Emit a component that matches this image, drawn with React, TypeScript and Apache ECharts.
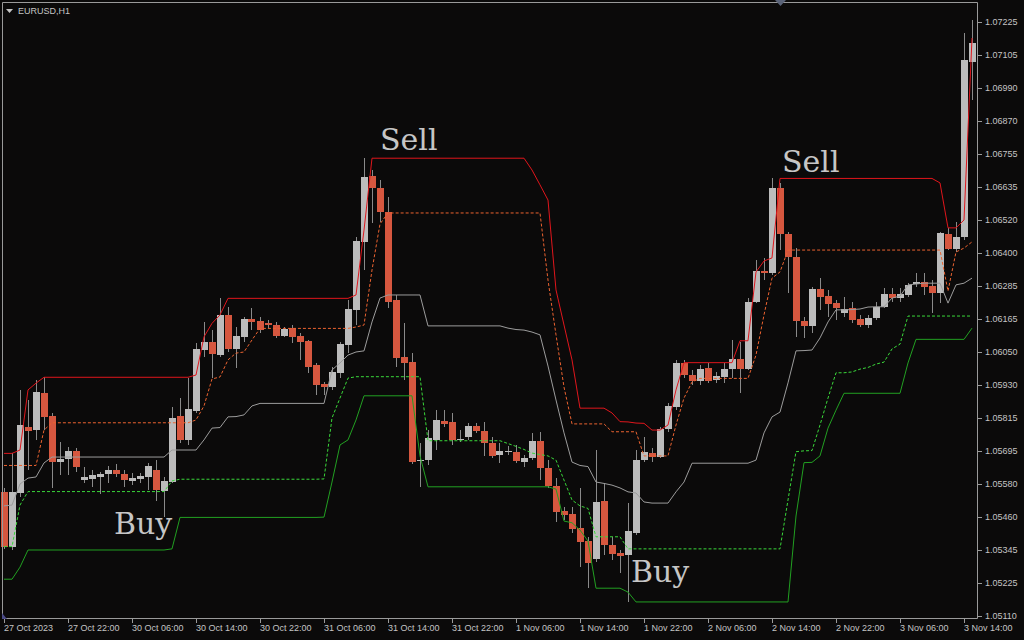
import React, { useEffect, useRef } from "react";
import * as echarts from "echarts";

// ---- time categories (H1 bars) ----
const dayBlocks: [string, number, number][] = [
  ["27 Oct", 14, 23],
  ["30 Oct", 0, 23],
  ["31 Oct", 0, 23],
  ["1 Nov", 0, 23],
  ["2 Nov", 0, 23],
  ["3 Nov", 0, 15],
];
const categories: string[] = [];
for (const [d, h0, h1] of dayBlocks) {
  for (let h = h0; h <= h1; h++) categories.push(`${d} ${String(h).padStart(2, "0")}:00`);
}

const xTickLabels = [
  "27 Oct 2023", "27 Oct 22:00", "30 Oct 06:00", "30 Oct 14:00", "30 Oct 22:00",
  "31 Oct 06:00", "31 Oct 14:00", "31 Oct 22:00", "1 Nov 06:00", "1 Nov 14:00",
  "1 Nov 22:00", "2 Nov 06:00", "2 Nov 14:00", "2 Nov 22:00", "3 Nov 06:00", "3 Nov 14:00",
];

const yTickLabels = [
  "1.05110", "1.05225", "1.05345", "1.05460", "1.05580", "1.05695", "1.05815",
  "1.05930", "1.06050", "1.06165", "1.06285", "1.06400", "1.06520", "1.06635",
  "1.06755", "1.06870", "1.06990", "1.07105", "1.07225",
];

// ---- OHLC ----
const opens = [
  1.05553, 1.05357, 1.05549, 1.05784, 1.05772, 1.05905, 1.05822, 1.05659, 1.05668, 1.05698,
  1.05594, 1.05598, 1.05604, 1.05617, 1.05629, 1.05617, 1.05592, 1.05599, 1.05606, 1.05630,
  1.05556, 1.05588, 1.05822, 1.05737, 1.05841, 1.06057, 1.06087, 1.06039, 1.06182, 1.06060,
  1.06104, 1.06166, 1.06160, 1.06154, 1.06146, 1.06107, 1.06134, 1.06107, 1.06089, 1.06004,
  1.05936, 1.05926, 1.05974, 1.06075, 1.06200, 1.06443, 1.06677, 1.06633, 1.06547, 1.06235,
  1.06033, 1.06015, 1.05662, 1.05665, 1.05737, 1.05804, 1.05800, 1.05736, 1.05746, 1.05787,
  1.05769, 1.05727, 1.05682, 1.05693, 1.05694, 1.05659, 1.05672, 1.05733, 1.05638, 1.05573,
  1.05484, 1.05473, 1.05422, 1.05378, 1.05312, 1.05519, 1.05363, 1.05333, 1.05327, 1.05407,
  1.05665, 1.05690, 1.05677, 1.05775, 1.05855, 1.06012, 1.05968, 1.05948, 1.05994, 1.05950,
  1.05960, 1.05988, 1.06024, 1.05988, 1.06229, 1.06338, 1.06330, 1.06633, 1.06469, 1.06387,
  1.06161, 1.06143, 1.06274, 1.06249, 1.06226, 1.06188, 1.06208, 1.06168, 1.06146, 1.06172,
  1.06211, 1.06255, 1.06243, 1.06253, 1.06292, 1.06300, 1.06285, 1.06261, 1.06470, 1.06417,
  1.06458, 1.07084,
];
const closes = [
  1.05357, 1.05553, 1.05790, 1.05770, 1.05909, 1.05820, 1.05659, 1.05669, 1.05698, 1.05639,
  1.05605, 1.05612, 1.05617, 1.05630, 1.05615, 1.05594, 1.05602, 1.05608, 1.05644, 1.05558,
  1.05591, 1.05816, 1.05737, 1.05848, 1.06061, 1.06087, 1.06043, 1.06182, 1.06060, 1.06107,
  1.06166, 1.06157, 1.06128, 1.06146, 1.06107, 1.06132, 1.06104, 1.06087, 1.05998, 1.05933,
  1.05924, 1.05980, 1.06078, 1.06202, 1.06445, 1.06672, 1.06633, 1.06547, 1.06229, 1.06028,
  1.06012, 1.05659, 1.05665, 1.05743, 1.05808, 1.05794, 1.05737, 1.05741, 1.05787, 1.05770,
  1.05725, 1.05680, 1.05698, 1.05699, 1.05663, 1.05674, 1.05733, 1.05638, 1.05573, 1.05481,
  1.05470, 1.05421, 1.05375, 1.05298, 1.05515, 1.05363, 1.05330, 1.05325, 1.05413, 1.05665,
  1.05695, 1.05677, 1.05775, 1.05858, 1.06010, 1.05968, 1.05948, 1.05989, 1.05948, 1.05965,
  1.05988, 1.06024, 1.05988, 1.06228, 1.06338, 1.06330, 1.06633, 1.06469, 1.06387, 1.06161,
  1.06143, 1.06274, 1.06247, 1.06221, 1.06208, 1.06202, 1.06164, 1.06146, 1.06172, 1.06211,
  1.06255, 1.06243, 1.06255, 1.06289, 1.06300, 1.06283, 1.06261, 1.06473, 1.06417, 1.06458,
  1.07090, 1.07151,
];
const highs = [
  1.05566, 1.05690, 1.05915, 1.05879, 1.05950, 1.05960, 1.05833, 1.05731, 1.05713, 1.05708,
  1.05642, 1.05630, 1.05624, 1.05644, 1.05651, 1.05630, 1.05618, 1.05620, 1.05654, 1.05665,
  1.05606, 1.05855, 1.05885, 1.05956, 1.06081, 1.06158, 1.06128, 1.06241, 1.06211, 1.06140,
  1.06176, 1.06206, 1.06176, 1.06164, 1.06158, 1.06140, 1.06146, 1.06117, 1.06093, 1.06011,
  1.05944, 1.05998, 1.06087, 1.06235, 1.06461, 1.06741, 1.06698, 1.06662, 1.06603, 1.06253,
  1.06152, 1.06045, 1.05726, 1.05772, 1.05843, 1.05843, 1.05832, 1.05772, 1.05797, 1.05797,
  1.05801, 1.05748, 1.05725, 1.05715, 1.05719, 1.05683, 1.05761, 1.05766, 1.05665, 1.05600,
  1.05499, 1.05499, 1.05565, 1.05392, 1.05701, 1.05582, 1.05392, 1.05345, 1.05511, 1.05701,
  1.05748, 1.05707, 1.05784, 1.05867, 1.06022, 1.06022, 1.05986, 1.06004, 1.06010, 1.05980,
  1.06010, 1.06093, 1.06087, 1.06241, 1.06378, 1.06384, 1.06668, 1.06651, 1.06478, 1.06419,
  1.06176, 1.06283, 1.06312, 1.06271, 1.06235, 1.06247, 1.06229, 1.06182, 1.06182, 1.06229,
  1.06277, 1.06277, 1.06277, 1.06295, 1.06330, 1.06330, 1.06306, 1.06478, 1.06490, 1.06514,
  1.07185, 1.07232,
];
const lows = [
  1.05349, 1.05345, 1.05534, 1.05630, 1.05737, 1.05772, 1.05566, 1.05612, 1.05612, 1.05624,
  1.05582, 1.05570, 1.05544, 1.05585, 1.05604, 1.05570, 1.05576, 1.05582, 1.05559, 1.05521,
  1.05464, 1.05582, 1.05725, 1.05719, 1.05833, 1.06033, 1.05956, 1.06033, 1.06051, 1.05992,
  1.06087, 1.06128, 1.06117, 1.06134, 1.06099, 1.06104, 1.06083, 1.06022, 1.05974, 1.05897,
  1.05897, 1.05915, 1.05956, 1.06045, 1.06146, 1.06342, 1.06508, 1.06514, 1.06206, 1.05998,
  1.05950, 1.05651, 1.05570, 1.05648, 1.05701, 1.05784, 1.05719, 1.05731, 1.05737, 1.05761,
  1.05680, 1.05672, 1.05654, 1.05683, 1.05654, 1.05642, 1.05665, 1.05594, 1.05565, 1.05446,
  1.05452, 1.05404, 1.05286, 1.05209, 1.05303, 1.05327, 1.05309, 1.05264, 1.05161, 1.05398,
  1.05659, 1.05659, 1.05672, 1.05766, 1.05843, 1.05956, 1.05933, 1.05933, 1.05939, 1.05939,
  1.05939, 1.05956, 1.05903, 1.05986, 1.06223, 1.06306, 1.06324, 1.06413, 1.06259, 1.06104,
  1.06099, 1.06117, 1.06200, 1.06176, 1.06164, 1.06176, 1.06152, 1.06140, 1.06134, 1.06164,
  1.06206, 1.06229, 1.06229, 1.06247, 1.06283, 1.06253, 1.06188, 1.06223, 1.06413, 1.06407,
  1.06449, 1.06947,
];

// ---- indicator lines ----
const upperBand = [
  1.05689, 1.05689, 1.05701, 1.05915, 1.05939, 1.05960, 1.05960, 1.05960, 1.05960, 1.05960,
  1.05960, 1.05960, 1.05960, 1.05960, 1.05960, 1.05960, 1.05960, 1.05960, 1.05960, 1.05960,
  1.05960, 1.05960, 1.05960, 1.05960, 1.05968, 1.06104, 1.06152, 1.06182, 1.06241, 1.06241,
  1.06241, 1.06241, 1.06241, 1.06241, 1.06241, 1.06241, 1.06241, 1.06241, 1.06241, 1.06241,
  1.06241, 1.06241, 1.06241, 1.06241, 1.06253, 1.06484, 1.06740, 1.06740, 1.06740, 1.06740,
  1.06740, 1.06740, 1.06740, 1.06740, 1.06740, 1.06740, 1.06740, 1.06740, 1.06740, 1.06740,
  1.06740, 1.06740, 1.06740, 1.06740, 1.06740, 1.06740, 1.06698, 1.06645, 1.06591, 1.06271,
  1.06146, 1.06022, 1.05850, 1.05850, 1.05850, 1.05850, 1.05833, 1.05802, 1.05801, 1.05797,
  1.05796, 1.05772, 1.05772, 1.05790, 1.05915, 1.06012, 1.06012, 1.06012, 1.06012, 1.06012,
  1.06012, 1.06012, 1.06090, 1.06090, 1.06335, 1.06374, 1.06385, 1.06668, 1.06668, 1.06668,
  1.06668, 1.06668, 1.06668, 1.06668, 1.06668, 1.06668, 1.06668, 1.06668, 1.06668, 1.06668,
  1.06668, 1.06668, 1.06668, 1.06668, 1.06668, 1.06668, 1.06668, 1.06652, 1.06492, 1.06492,
  1.06520, 1.07168,
];
const upperMid = [
  1.05646, 1.05646, 1.05646, 1.05646, 1.05646, 1.05772, 1.05798, 1.05798, 1.05798, 1.05798,
  1.05798, 1.05798, 1.05798, 1.05798, 1.05798, 1.05798, 1.05798, 1.05798, 1.05798, 1.05798,
  1.05798, 1.05798, 1.05798, 1.05798, 1.05808, 1.05858, 1.05954, 1.05961, 1.06022, 1.06046,
  1.06050, 1.06093, 1.06134, 1.06134, 1.06134, 1.06134, 1.06134, 1.06134, 1.06134, 1.06134,
  1.06134, 1.06134, 1.06134, 1.06134, 1.06139, 1.06146, 1.06342, 1.06506, 1.06545, 1.06545,
  1.06545, 1.06545, 1.06545, 1.06545, 1.06545, 1.06545, 1.06545, 1.06545, 1.06545, 1.06545,
  1.06545, 1.06545, 1.06545, 1.06545, 1.06545, 1.06545, 1.06545, 1.06545, 1.06306, 1.06111,
  1.05925, 1.05794, 1.05794, 1.05794, 1.05794, 1.05794, 1.05766, 1.05766, 1.05766, 1.05766,
  1.05680, 1.05680, 1.05680, 1.05680, 1.05790, 1.05886, 1.05943, 1.05956, 1.05956, 1.05956,
  1.05956, 1.05956, 1.05956, 1.05956, 1.06039, 1.06182, 1.06313, 1.06335, 1.06413, 1.06413,
  1.06413, 1.06413, 1.06413, 1.06413, 1.06413, 1.06413, 1.06413, 1.06413, 1.06413, 1.06413,
  1.06413, 1.06413, 1.06413, 1.06413, 1.06413, 1.06413, 1.06413, 1.06413, 1.06267, 1.06406,
  1.06420, 1.06442,
];
const middleLine = [
  1.05502, 1.05505, 1.05580, 1.05601, 1.05605, 1.05655, 1.05676, 1.05676, 1.05676, 1.05676,
  1.05676, 1.05676, 1.05676, 1.05676, 1.05676, 1.05676, 1.05676, 1.05676, 1.05676, 1.05676,
  1.05676, 1.05701, 1.05701, 1.05701, 1.05701, 1.05737, 1.05779, 1.05781, 1.05819, 1.05820,
  1.05826, 1.05858, 1.05867, 1.05867, 1.05867, 1.05867, 1.05867, 1.05867, 1.05867, 1.05867,
  1.05867, 1.05986, 1.06011, 1.06039, 1.06050, 1.06054, 1.06157, 1.06242, 1.06253, 1.06253,
  1.06253, 1.06253, 1.06253, 1.06143, 1.06143, 1.06143, 1.06143, 1.06143, 1.06143, 1.06143,
  1.06143, 1.06143, 1.06143, 1.06135, 1.06130, 1.06128, 1.06121, 1.06111, 1.06000, 1.05879,
  1.05762, 1.05658, 1.05646, 1.05642, 1.05587, 1.05582, 1.05576, 1.05566, 1.05552, 1.05548,
  1.05516, 1.05512, 1.05512, 1.05512, 1.05552, 1.05587, 1.05654, 1.05654, 1.05654, 1.05654,
  1.05654, 1.05654, 1.05654, 1.05654, 1.05665, 1.05762, 1.05819, 1.05836, 1.05940, 1.06054,
  1.06055, 1.06057, 1.06100, 1.06157, 1.06200, 1.06200, 1.06201, 1.06203, 1.06210, 1.06211,
  1.06211, 1.06242, 1.06249, 1.06289, 1.06292, 1.06295, 1.06295, 1.06295, 1.06224, 1.06289,
  1.06295, 1.06313,
];
const lowerMid = [
  1.05357, 1.05357, 1.05505, 1.05553, 1.05553, 1.05553, 1.05553, 1.05553, 1.05553, 1.05553,
  1.05553, 1.05553, 1.05553, 1.05553, 1.05553, 1.05553, 1.05553, 1.05553, 1.05553, 1.05553,
  1.05553, 1.05591, 1.05597, 1.05597, 1.05597, 1.05597, 1.05597, 1.05597, 1.05597, 1.05597,
  1.05597, 1.05597, 1.05597, 1.05597, 1.05597, 1.05597, 1.05597, 1.05597, 1.05597, 1.05597,
  1.05598, 1.05815, 1.05886, 1.05957, 1.05962, 1.05962, 1.05962, 1.05962, 1.05962, 1.05962,
  1.05962, 1.05962, 1.05962, 1.05734, 1.05734, 1.05734, 1.05734, 1.05734, 1.05734, 1.05734,
  1.05734, 1.05734, 1.05734, 1.05724, 1.05714, 1.05703, 1.05690, 1.05685, 1.05680, 1.05665,
  1.05594, 1.05523, 1.05502, 1.05493, 1.05392, 1.05392, 1.05392, 1.05392, 1.05349, 1.05349,
  1.05349, 1.05349, 1.05349, 1.05349, 1.05349, 1.05349, 1.05349, 1.05349, 1.05349, 1.05349,
  1.05349, 1.05349, 1.05349, 1.05349, 1.05349, 1.05349, 1.05349, 1.05349, 1.05523, 1.05695,
  1.05698, 1.05699, 1.05790, 1.05886, 1.05976, 1.05976, 1.05979, 1.05989, 1.05995, 1.06007,
  1.06014, 1.06061, 1.06078, 1.06178, 1.06178, 1.06178, 1.06178, 1.06178, 1.06178, 1.06178,
  1.06178, 1.06178,
];
const lowerBand = [
  1.05241, 1.05241, 1.05284, 1.05345, 1.05345, 1.05345, 1.05345, 1.05345, 1.05345, 1.05345,
  1.05345, 1.05345, 1.05345, 1.05345, 1.05345, 1.05345, 1.05345, 1.05345, 1.05345, 1.05345,
  1.05345, 1.05349, 1.05461, 1.05461, 1.05461, 1.05461, 1.05461, 1.05461, 1.05461, 1.05461,
  1.05461, 1.05461, 1.05461, 1.05461, 1.05461, 1.05461, 1.05461, 1.05461, 1.05461, 1.05461,
  1.05462, 1.05587, 1.05719, 1.05737, 1.05808, 1.05894, 1.05894, 1.05894, 1.05894, 1.05894,
  1.05894, 1.05894, 1.05680, 1.05570, 1.05570, 1.05570, 1.05570, 1.05570, 1.05570, 1.05570,
  1.05570, 1.05570, 1.05570, 1.05570, 1.05570, 1.05570, 1.05570, 1.05570, 1.05570, 1.05562,
  1.05448, 1.05442, 1.05416, 1.05377, 1.05209, 1.05209, 1.05209, 1.05209, 1.05195, 1.05160,
  1.05160, 1.05160, 1.05160, 1.05160, 1.05160, 1.05160, 1.05160, 1.05160, 1.05160, 1.05160,
  1.05160, 1.05160, 1.05160, 1.05160, 1.05160, 1.05160, 1.05160, 1.05160, 1.05160, 1.05466,
  1.05656, 1.05657, 1.05680, 1.05779, 1.05843, 1.05903, 1.05903, 1.05903, 1.05903, 1.05903,
  1.05903, 1.05903, 1.05903, 1.06011, 1.06095, 1.06095, 1.06095, 1.06095, 1.06095, 1.06095,
  1.06095, 1.06135,
];

// ---- signal annotations ----
const signalTexts = ["Sell", "Sell", "Buy", "Buy"];

const BG = "#0b0a0a";
const TEXT = "#c4c4c4";
const FRAME = "#9a9a9a";
const BULL = "#bcbcbc";
const BEAR = "#d6573f";
const WICK = "#8a8a8a";

export default function App() {
  const ref = useRef<HTMLDivElement>(null);

  useEffect(() => {
    if (!ref.current) return;
    const chart = echarts.init(ref.current, undefined, { renderer: "svg" });
    const ohlc = categories.map((_, i) => [i, opens[i], closes[i], lows[i], highs[i]]);

    const lineSeries = (data: number[], color: string, dashed: boolean) => ({
      type: "line",
      xAxisIndex: 0,
      yAxisIndex: 0,
      data,
      symbol: "none",
      smooth: false,
      z: 5,
      lineStyle: { color, width: 1, type: dashed ? [3, 2] : "solid" },
      emphasis: { disabled: true },
    });

    const option: any = {
      animation: false,
      backgroundColor: BG,
      grid: [
        { left: 0, top: 2, width: 976, height: 617 },
        { left: 0, top: 22, width: 978, height: 594 },
      ],
      xAxis: [
        {
          gridIndex: 0,
          type: "category",
          data: categories,
          boundaryGap: true,
          axisLine: { show: false },
          axisTick: {
            show: true,
            alignWithLabel: true,
            interval: 7,
            length: 4,
            lineStyle: { color: FRAME },
          },
          axisLabel: {
            interval: 7,
            align: "left",
            color: TEXT,
            fontSize: 9,
            fontFamily: "Liberation Sans",
            margin: 4,
            formatter: (_v: string, idx: number) =>
              idx % 8 === 0 ? xTickLabels[idx / 8] ?? "" : "",
          },
          splitLine: { show: false },
        },
        { gridIndex: 1, type: "value", show: false, min: 1, max: 2 },
      ],
      yAxis: [
        {
          gridIndex: 0,
          type: "value",
          min: 1.050993,
          max: 1.072962,
          show: false,
          scale: true,
        },
        {
          gridIndex: 1,
          type: "value",
          position: "right",
          min: 1.0511,
          max: 1.07225,
          interval: 0.001175,
          axisLine: { show: false, onZero: false },
          axisTick: { show: true, length: 4, lineStyle: { color: FRAME } },
          axisLabel: {
            color: TEXT,
            fontSize: 9,
            fontFamily: "Liberation Sans",
            margin: 7,
            formatter: (v: number) => {
              const hit = yTickLabels.find((t) => Math.abs(parseFloat(t) - v) < 0.0004);
              return hit ?? "";
            },
          },
          splitLine: { show: false },
        },
      ],
      series: [
        {
          type: "custom",
          xAxisIndex: 0,
          yAxisIndex: 0,
          data: ohlc,
          encode: { x: 0, y: [1, 2, 3, 4] },
          z: 2,
          renderItem: (_p: any, api: any) => {
            const i = api.value(0);
            const o = api.value(1);
            const c = api.value(2);
            const l = api.value(3);
            const h = api.value(4);
            const pO = api.coord([i, o]);
            const pC = api.coord([i, c]);
            const pL = api.coord([i, l]);
            const pH = api.coord([i, h]);
            const cx = Math.floor(pO[0]) + 0.5;
            const top = Math.round(Math.min(pO[1], pC[1]));
            const bot = Math.round(Math.max(pO[1], pC[1]));
            const up = c >= o;
            return {
              type: "group",
              children: [
                {
                  type: "line",
                  shape: { x1: cx, y1: Math.round(pH[1]), x2: cx, y2: Math.round(pL[1]) },
                  style: { stroke: WICK, lineWidth: 1 },
                },
                {
                  type: "rect",
                  shape: { x: cx - 3.5, y: top, width: 7, height: Math.max(1, bot - top) },
                  style: { fill: up ? BULL : BEAR },
                },
              ],
            };
          },
        },
        lineSeries(upperBand, "#e0161c", false),
        lineSeries(upperMid, "#ec6330", true),
        lineSeries(middleLine, "#9c9c9c", false),
        lineSeries(lowerMid, "#3ad83a", true),
        lineSeries(lowerBand, "#22a022", false),
      ],
      graphic: [
        {
          type: "rect",
          silent: true,
          z: 100,
          shape: { x: 2.5, y: 2.5, width: 975, height: 616 },
          style: { fill: "none", stroke: FRAME, lineWidth: 1 },
        },
        {
          type: "polygon",
          silent: true,
          z: 100,
          shape: { points: [[6, 9], [13, 9], [9.5, 13]] },
          style: { fill: TEXT },
        },
        {
          type: "text",
          silent: true,
          z: 100,
          x: 18,
          y: 10.5,
          style: {
            text: "EURUSD,H1",
            fill: TEXT,
            font: '9px "Liberation Sans"',
            verticalAlign: "middle",
          },
        },
        {
          type: "polygon",
          silent: true,
          z: 100,
          shape: { points: [[775, 0], [786, 0], [780.5, 6]] },
          style: { fill: "#5a6378" },
        },
        {
          type: "polygon",
          silent: true,
          z: 100,
          shape: { points: [[2, 613], [7, 619], [2, 619]] },
          style: { fill: "#4a4a86" },
        },
        ...[
          [380, 139],
          [782, 161],
          [114, 523],
          [631, 571],
        ].map(([x, y], k) => ({
          type: "text",
          silent: true,
          z: 100,
          x,
          y,
          style: {
            text: signalTexts[k],
            fill: "#c6c6c6",
            font: '30px "DejaVu Serif"',
            verticalAlign: "middle",
          },
        })),
      ],
    };

    chart.setOption(option);
    return () => chart.dispose();
  }, []);

  return (
    <div
      ref={ref}
      style={{
        position: "absolute",
        left: 0,
        top: 0,
        width: 1024,
        height: 640,
        background: BG,
      }}
    />
  );
}
